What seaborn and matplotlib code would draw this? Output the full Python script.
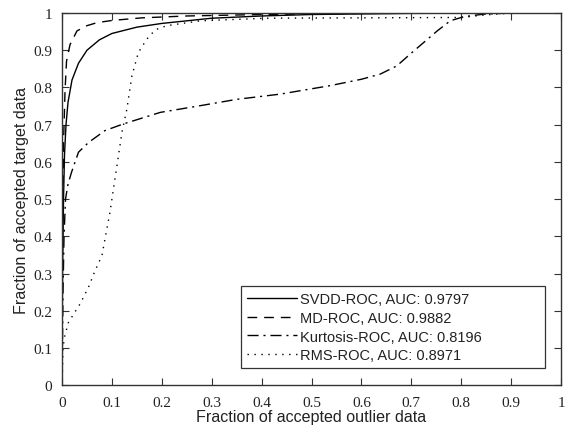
import matplotlib
matplotlib.use("Agg")
import matplotlib.pyplot as plt
import seaborn as sns
import pandas as pd

# ROC curves: fraction of accepted outlier data (x) vs accepted target data (y)
svdd_fpr = [0.0, 0.001, 0.003, 0.005, 0.008, 0.012, 0.02, 0.033, 0.05, 0.075,
            0.1, 0.15, 0.2, 0.3, 0.4, 0.5, 0.7, 1.0]
svdd_tpr = [0.0, 0.3, 0.5, 0.62, 0.7, 0.76, 0.82, 0.865, 0.9, 0.928,
            0.945, 0.962, 0.972, 0.986, 0.992, 0.996, 0.999, 1.0]

md_fpr = [0.0, 0.001, 0.003, 0.006, 0.009, 0.016, 0.03, 0.05, 0.07, 0.1,
          0.16, 0.25, 0.4, 0.6, 1.0]
md_tpr = [0.0, 0.4, 0.65, 0.79, 0.87, 0.915, 0.952, 0.966, 0.974, 0.98,
          0.987, 0.992, 0.996, 0.999, 1.0]

kurt_fpr = [0.0, 0.002, 0.004, 0.007, 0.012, 0.019, 0.033, 0.053, 0.086, 0.123,
            0.197, 0.277, 0.35, 0.437, 0.538, 0.6, 0.638, 0.671, 0.698, 0.725,
            0.752, 0.778, 0.805, 0.845, 0.9, 1.0]
kurt_tpr = [0.0, 0.25, 0.4, 0.5, 0.54, 0.572, 0.626, 0.652, 0.684, 0.702,
            0.733, 0.751, 0.768, 0.782, 0.805, 0.822, 0.836, 0.858, 0.89, 0.921,
            0.952, 0.979, 0.99, 0.997, 1.0, 1.0]

rms_fpr = [0.0, 0.002, 0.005, 0.013, 0.036, 0.053, 0.066, 0.08, 0.086, 0.096,
           0.106, 0.113, 0.12, 0.13, 0.14, 0.153, 0.17, 0.187, 0.21, 0.277,
           0.41, 0.6, 0.8, 0.85, 0.9, 1.0]
rms_tpr = [0.0, 0.1, 0.13, 0.169, 0.218, 0.263, 0.307, 0.348, 0.392, 0.464,
           0.554, 0.616, 0.679, 0.742, 0.831, 0.894, 0.93, 0.955, 0.966, 0.979,
           0.986, 0.987, 0.988, 0.995, 1.0, 1.0]

labels = ["SVDD-ROC, AUC: 0.9797", "MD-ROC, AUC: 0.9882",
          "Kurtosis-ROC, AUC: 0.8196", "RMS-ROC, AUC: 0.8971"]

curves = [(svdd_fpr, svdd_tpr), (md_fpr, md_tpr),
          (kurt_fpr, kurt_tpr), (rms_fpr, rms_tpr)]
dash_styles = [None, (7, 5), (8, 3.5, 1.5, 3.5), (1, 4)]

sns.set_style("ticks")
plt.rcParams["font.family"] = ["Liberation Sans", "DejaVu Sans"]

fig = plt.figure(figsize=(5.69, 4.31), dpi=100)
ax = fig.add_axes([0.109, 0.104, 0.877, 0.8635])

for (fpr, tpr), lab, ds in zip(curves, labels, dash_styles):
    df = pd.DataFrame({"fpr": fpr, "tpr": tpr})
    sns.lineplot(data=df, x="fpr", y="tpr", ax=ax, color="black", lw=1.0,
                 label=lab, sort=False, estimator=None)
    line = ax.get_lines()[-1]
    if ds is None:
        line.set_linestyle("-")
    else:
        line.set_dashes(ds)

ax.set_xlim(0, 1)
ax.set_ylim(0, 1)
ticks = [i / 10 for i in range(11)]
tick_labels = ["0", "0.1", "0.2", "0.3", "0.4", "0.5", "0.6", "0.7", "0.8", "0.9", "1"]
ax.set_xticks(ticks)
ax.set_xticklabels(tick_labels, family=["Liberation Serif"], fontsize=11)
ax.set_yticks(ticks)
ax.set_yticklabels(tick_labels, family=["Liberation Serif"], fontsize=11)
ax.tick_params(direction="in", length=5, width=0.8, top=True, right=True,
               colors="#333333", labelcolor="#222222")
ax.tick_params(axis="x", pad=8)
ax.tick_params(axis="y", pad=7)
for sp in ax.spines.values():
    sp.set_visible(True)
    sp.set_color("#333333")
    sp.set_linewidth(1.0)

ax.set_xlabel("Fraction of accepted outlier data", fontsize=11.6, color="#222222", labelpad=0)
ax.set_ylabel("Fraction of accepted target data", fontsize=11.6, color="#222222", labelpad=3)

leg = ax.legend(loc="lower left", bbox_to_anchor=(0.359, 0.046, 0.609, 0.21),
                mode="expand", fontsize=10.5, frameon=True, fancybox=False,
                handlelength=3.4, handletextpad=0.2, borderpad=0.4,
                labelspacing=0.32, borderaxespad=0)
leg.get_frame().set_edgecolor("black")
leg.get_frame().set_linewidth(0.9)
for t in leg.get_texts():
    t.set_color("#222222")

fig.savefig("out.png", dpi=100)
